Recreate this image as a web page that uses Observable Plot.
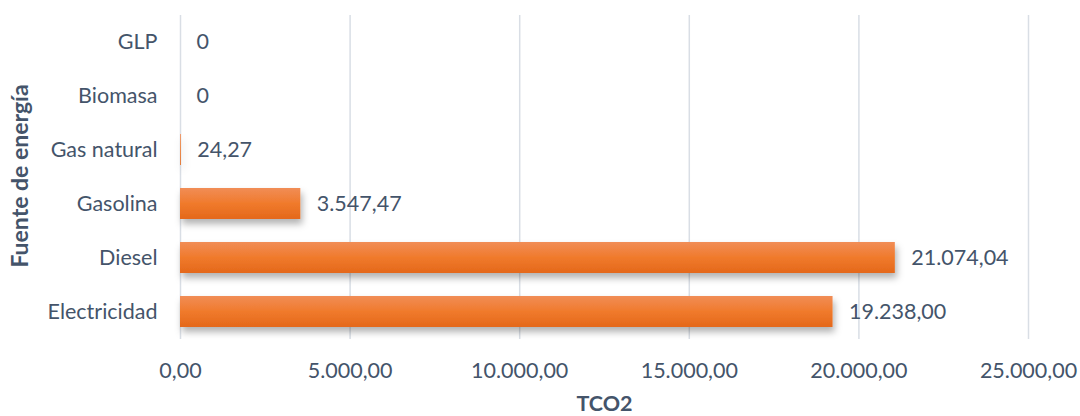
<!DOCTYPE html>
<html>
<head>
<meta charset="utf-8">
<script src="https://cdn.jsdelivr.net/npm/d3@7"></script>
<script src="https://cdn.jsdelivr.net/npm/@observablehq/plot@0.6"></script>
<style>
  html, body { margin: 0; padding: 0; background: #fff; }
  #chart svg { display: block; }
</style>
</head>
<body>
<div id="chart"></div>
<script>
const categories = ["GLP", "Biomasa", "Gas natural", "Gasolina", "Diesel", "Electricidad"];
const values = [0, 0, 24.27, 3547.47, 21074.04, 19238.00];
const xTicks = [0, 5000, 10000, 15000, 20000, 25000];
const xLabel = "TCO2";
const yLabel = "Fuente de energía";

const esLocale = d3.formatLocale({decimal: ",", thousands: ".", grouping: [3], currency: ["", ""]});
const fmt2 = esLocale.format(",.2f");
const labelFmt = v => v === 0 ? "0" : fmt2(v);

const data = categories.map((c, i) => ({cat: c, value: values[i]}));

const textColor = "#44546A";
const font = "Lato, 'Open Sans', sans-serif";
const fs = 21.5;

const chart = Plot.plot({
  width: 1080,
  height: 416,
  marginLeft: 180,
  marginRight: 52,
  marginTop: 15,
  marginBottom: 77,
  style: {fontFamily: font, fontSize: fs + "px", color: textColor, background: "#fff"},
  x: {domain: [0, 25000], ticks: xTicks},
  y: {domain: categories, paddingInner: 0.42, paddingOuter: 0.21},
  marks: [
    Plot.gridX(xTicks, {stroke: "#D9DEE5", strokeOpacity: 1, strokeWidth: 1.5}),
    Plot.barX(data, {x: "value", y: "cat", fill: "url(#barGrad)", filter: d => d.value > 0}),
    Plot.text(data, {x: "value", y: "cat", text: d => labelFmt(d.value), textAnchor: "start", dx: 16, fill: textColor, fontSize: fs}),
    Plot.axisX({ticks: xTicks, tickSize: 0, tickPadding: 23, tickFormat: v => fmt2(v), label: xLabel, labelAnchor: "center", labelArrow: "none", labelOffset: 71, color: textColor}),
    Plot.axisY({tickSize: 0, tickPadding: 23, label: null, color: textColor})
  ]
});

// gradient + shadow definitions
const svg = d3.select(chart);
const defs = svg.insert("defs", ":first-child");
const grad = defs.append("linearGradient").attr("id", "barGrad").attr("x1", 0).attr("y1", 0).attr("x2", 0).attr("y2", 1);
grad.append("stop").attr("offset", "0%").attr("stop-color", "#F18D56");
grad.append("stop").attr("offset", "50%").attr("stop-color", "#F07A2C");
grad.append("stop").attr("offset", "100%").attr("stop-color", "#E4681A");
const filt = defs.append("filter").attr("id", "barShadow").attr("x", "-10%").attr("y", "-30%").attr("width", "130%").attr("height", "190%");
filt.append("feDropShadow").attr("dx", 2).attr("dy", 5).attr("stdDeviation", 3.5).attr("flood-color", "#000").attr("flood-opacity", 0.3);
svg.selectAll('g[aria-label="bar"]').attr("filter", "url(#barShadow)");

// uniform font sizing
svg.selectAll("text").attr("font-size", fs);
svg.selectAll('g[aria-label="x-axis label"] text').attr("font-weight", "bold").attr("font-size", 21.5).attr("fill", textColor);

// rotated y-axis label
svg.append("text")
  .attr("transform", "translate(22,176) rotate(-90)")
  .attr("text-anchor", "middle")
  .attr("dominant-baseline", "middle")
  .attr("font-family", font)
  .attr("font-size", 23)
  .attr("font-weight", "bold")
  .attr("fill", textColor)
  .text(yLabel);

document.getElementById("chart").appendChild(chart);
</script>
</body>
</html>
